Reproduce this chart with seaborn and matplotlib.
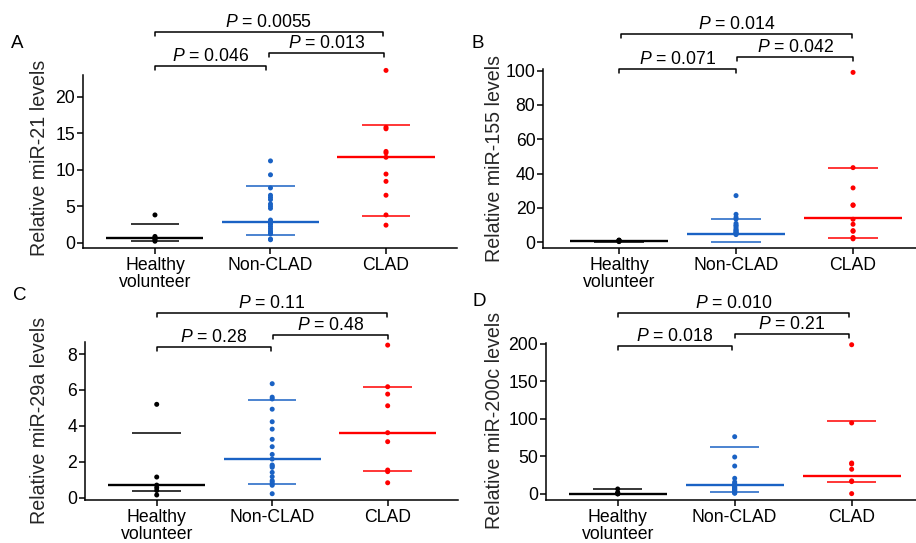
import matplotlib
matplotlib.use("Agg")
import matplotlib.pyplot as plt
import matplotlib.transforms as mtransforms
import pandas as pd
import seaborn as sns

# ---- groups and colours ----
groups = ["Healthy\nvolunteer", "Non-CLAD", "CLAD"]
colors = ["#000000", "#1a62c4", "#ff0000"]

# ---- miR-21 ----
mir21_healthy = [3.8, 0.85, 0.7, 0.55, 0.4, 0.2]
mir21_noncl = [11.2, 9.3, 7.5, 6.5, 6.2, 5.9, 5.3, 5.0, 4.7, 3.1, 2.9, 2.7,
               2.5, 2.2, 1.9, 1.6, 1.4, 1.3, 1.2, 0.5, 0.4]
mir21_clad = [23.6, 15.8, 15.6, 12.5, 12.3, 11.7, 9.4, 8.4, 6.5, 3.8, 2.4]
mir21_center = [0.69, 2.9, 11.75]
mir21_low = [0.28, 1.06, 3.7]
mir21_high = [2.58, 7.7, 16.1]
mir21_p = ["0.046", "0.013", "0.0055"]
mir21_ticks = [0, 5, 10, 15, 20]

# ---- miR-155 ----
mir155_healthy = [1.3, 1.1, 1.0, 0.8, 0.6, 0.4]
mir155_noncl = [27.2, 16.3, 14.5, 13.5, 11.0, 10.0, 9.5, 8.5, 7.5, 7.0,
                6.5, 6.0, 5.5, 5.2, 5.0, 4.8, 4.5]
mir155_clad = [99.0, 43.5, 31.7, 21.8, 21.5, 13.4, 10.5, 6.8, 6.4, 2.8, 2.0]
mir155_center = [0.6, 4.85, 14.2]
mir155_low = [0.3, 0.2, 2.7]
mir155_high = [1.0, 13.8, 43.5]
mir155_p = ["0.071", "0.042", "0.014"]
mir155_ticks = [0, 20, 40, 60, 80, 100]

# ---- miR-29a ----
mir29a_healthy = [5.2, 1.15, 0.7, 0.55, 0.4, 0.15]
mir29a_noncl = [6.35, 5.6, 5.5, 4.93, 4.23, 3.82, 3.25, 2.84, 2.41, 2.15,
                1.82, 1.76, 1.69, 1.41, 1.17, 0.95, 0.87, 0.76, 0.69, 0.22]
mir29a_clad = [8.5, 6.18, 5.77, 5.12, 3.62, 3.12, 1.54, 1.45, 0.83]
mir29a_center = [0.69, 2.13, 3.62]
mir29a_low = [0.35, 0.76, 1.47]
mir29a_high = [3.58, 5.45, 6.18]
mir29a_p = ["0.28", "0.48", "0.11"]
mir29a_ticks = [0, 2, 4, 6, 8]

# ---- miR-200c ----
mir200c_healthy = [6.7, 2.0, 1.0, 0.6, 0.3, 0.1]
mir200c_noncl = [76.4, 49.3, 37.3, 20.9, 16.0, 14.0, 12.0, 10.0, 9.0, 8.0,
                 7.0, 6.0, 5.0, 4.0, 3.0, 2.0, 1.5, 1.0]
mir200c_clad = [199.0, 94.7, 41.3, 40.0, 33.0, 17.5, 16.5, 0.5]
mir200c_center = [0.6, 11.6, 23.6]
mir200c_low = [0.2, 2.2, 15.6]
mir200c_high = [6.7, 63.0, 97.0]
mir200c_p = ["0.018", "0.21", "0.010"]
mir200c_ticks = [0, 50, 100, 150, 200]

sns.set_theme(style="ticks")
plt.rcParams["font.family"] = ["Liberation Sans", "DejaVu Sans"]
plt.rcParams["mathtext.fontset"] = "custom"
plt.rcParams["mathtext.rm"] = "Liberation Sans"
plt.rcParams["mathtext.it"] = "Liberation Sans:italic"

W, H = 916, 543
FS = 12.7
FS_LABEL = 14.1
fig = plt.figure(figsize=(W / 100, H / 100), dpi=100)
fig.patch.set_facecolor("white")


def fy(py):
    return 1 - py / H


panels = [
    dict(letter="A", label="Relative miR-21 levels",
         values=[mir21_healthy, mir21_noncl, mir21_clad],
         center=mir21_center, low=mir21_low, high=mir21_high, p=mir21_p,
         ticks=mir21_ticks, box=(83, 75, 456.7, 248),
         xlim=(-0.623, 2.612), ylim=(-0.73, 22.97),
         brackets=[(0, 0.96, 65.7), (0.99, 1.98, 53.3), (0, 1.97, 31.7)],
         letter_xy=(17, 43.5), label_xy=(39.5, 158)),
    dict(letter="B", label="Relative miR-155 levels",
         values=[mir155_healthy, mir155_noncl, mir155_clad],
         center=mir155_center, low=mir155_low, high=mir155_high, p=mir155_p,
         ticks=mir155_ticks, box=(543.3, 69.3, 916, 248.3),
         xlim=(-0.647, 2.538), ylim=(-3.5, 100.8),
         brackets=[(0, 1.0, 69.0), (1.01, 2.0, 57.3), (0.02, 1.99, 34.3)],
         letter_xy=(477.5, 44), label_xy=(494, 158)),
    dict(letter="C", label="Relative miR-29a levels",
         values=[mir29a_healthy, mir29a_noncl, mir29a_clad],
         center=mir29a_center, low=mir29a_low, high=mir29a_high, p=mir29a_p,
         ticks=mir29a_ticks, box=(85, 341.7, 458, 500),
         xlim=(-0.621, 2.609), ylim=(-0.13, 8.69),
         brackets=[(0, 0.99, 346.7), (1.01, 2.0, 335.0), (0, 1.99, 313.3)],
         letter_xy=(20, 296), label_xy=(39.5, 420)),
    dict(letter="D", label="Relative miR-200c levels",
         values=[mir200c_healthy, mir200c_noncl, mir200c_clad],
         center=mir200c_center, low=mir200c_low, high=mir200c_high,
         p=mir200c_p, ticks=mir200c_ticks, box=(546, 342.7, 916, 500),
         xlim=(-0.613, 2.55), ylim=(-8, 201.7),
         brackets=[(0, 0.98, 345.7), (1.0, 1.98, 334.0), (0, 1.98, 312.7)],
         letter_xy=(479, 301), label_xy=(494, 420)),
]

for pan in panels:
    left, top, right, bottom = pan["box"]
    ax = fig.add_axes([left / W, 1 - bottom / H, (right - left) / W,
                       (bottom - top) / H])
    ax.set_facecolor("white")

    df = pd.DataFrame({
        "group": [g for g, vals in zip(groups, pan["values"]) for _ in vals],
        "value": [v for vals in pan["values"] for v in vals],
    })
    sns.stripplot(data=df, x="group", y="value", hue="group", order=groups,
                  hue_order=groups, palette=colors, size=3.6, jitter=False,
                  legend=False, linewidth=0, clip_on=False, ax=ax)

    # centre line and error lines per group
    for i, (c, lo, hi, col) in enumerate(zip(pan["center"], pan["low"],
                                             pan["high"], colors)):
        ax.hlines(c, i - 0.42, i + 0.42, color=col, lw=1.7, zorder=3)
        ax.hlines([lo, hi], i - 0.21, i + 0.21, color=col, lw=1.1, zorder=3)

    ax.set_xlim(*pan["xlim"])
    ax.set_ylim(*pan["ylim"])
    ax.set_yticks(pan["ticks"])
    ax.set_xticks(range(3))
    ax.set_xticklabels(groups, linespacing=1.0)
    ax.set_xlabel("")
    ax.set_ylabel(pan["label"], fontsize=FS_LABEL, va="center")
    lx, ly = pan["label_xy"]
    ax.yaxis.set_label_coords((lx - left) / (right - left),
                              (bottom - ly) / (bottom - top))
    ax.tick_params(axis="both", labelsize=FS, length=4.2, width=1.1,
                   color="black", labelcolor="black", direction="out")
    ax.tick_params(axis="x", pad=2)
    ax.tick_params(axis="y", pad=1.5)
    for side in ("top", "right"):
        ax.spines[side].set_visible(False)
    for side in ("left", "bottom"):
        ax.spines[side].set_linewidth(1.1)
        ax.spines[side].set_color("black")

    # significance brackets
    trans = mtransforms.blended_transform_factory(ax.transData, fig.transFigure)
    for (x0, x1, yb), pv in zip(pan["brackets"], pan["p"]):
        drop = 4
        ax.plot([x0, x0, x1, x1], [fy(yb + drop), fy(yb), fy(yb), fy(yb + drop)],
                color="black", lw=1.1, transform=trans, clip_on=False)
        ax.text((x0 + x1) / 2, fy(yb - 5), "$P$ = " + pv, fontsize=FS,
                ha="center", va="baseline", transform=trans, color="black")

    fig.text(pan["letter_xy"][0] / W, fy(pan["letter_xy"][1]), pan["letter"],
             fontsize=13.5, ha="center", va="center", color="black")

fig.savefig("out.png", dpi=100, facecolor="white")
